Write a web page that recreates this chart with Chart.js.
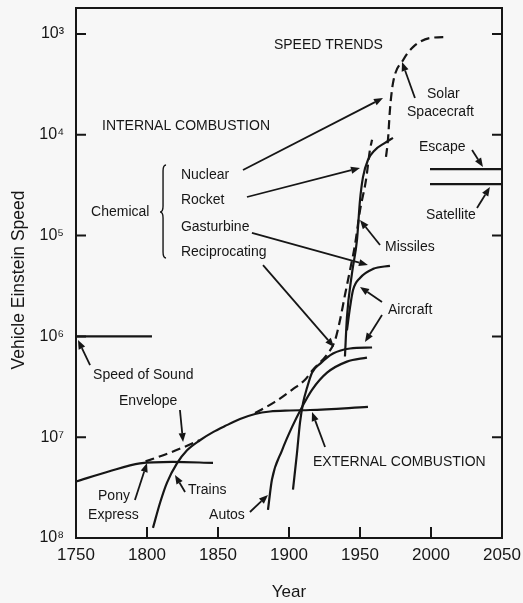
<!DOCTYPE html>
<html>
<head>
<meta charset="utf-8">
<script src="https://cdn.jsdelivr.net/npm/chart.js@4.4.1/dist/chart.umd.min.js"></script>
<style>
  html, body { margin: 0; padding: 0; background: #f7f7f7; }
  #wrap { width: 523px; height: 603px; position: relative; }
</style>
</head>
<body>
<div id="wrap"><canvas id="c" width="523" height="603"></canvas></div>
<script>
// Speed trends of vehicles, given as Einstein speed (c / v) on an inverted log axis.
// Each series is a list of [year, log10 of Einstein speed].
const xTicks = [1750, 1800, 1850, 1900, 1950, 2000, 2050];
const yTickExponents = [3, 4, 5, 6, 7, 8];

const ponyExpress = [[1750, 7.44], [1773, 7.34], [1795, 7.26], [1818, 7.245], [1846.5, 7.255]];
const trains = [[1804.2, 7.90], [1809.2, 7.65], [1814.1, 7.45], [1821.1, 7.26], [1828.2, 7.13],
                [1837.3, 7.03], [1846.5, 6.95], [1854.9, 6.89], [1865.5, 6.82], [1876.1, 6.77],
                [1886.6, 6.745], [1900.7, 6.735], [1914.8, 6.73], [1955.6, 6.70]];
const autos = [[1885.2, 7.72], [1888, 7.42], [1895.1, 7.13], [1902.1, 6.90], [1909.2, 6.70],
               [1916.2, 6.53], [1926.8, 6.36], [1940.8, 6.25], [1954.9, 6.21]];
const pistonAircraft = [[1902.8, 7.52], [1905.6, 7.16], [1907.7, 6.86], [1909.9, 6.66], [1912.7, 6.51],
                        [1916.2, 6.36], [1922, 6.27], [1931, 6.17], [1943, 6.12], [1958.5, 6.11]];
const jetAircraft = [[1940.8, 5.94], [1943, 5.71], [1945.1, 5.54], [1950, 5.42], [1959.2, 5.33], [1971.1, 5.30]];
const missiles = [[1939.4, 6.20], [1940.8, 5.81], [1944.4, 5.37], [1947.9, 5.04], [1950, 4.65],
                  [1952.1, 4.42], [1955.6, 4.25], [1960.6, 4.15], [1967.6, 4.08], [1973.2, 4.03]];
const solarSpacecraft = [[1968.3, 4.22], [1969.7, 4.05], [1971.1, 3.75], [1973.2, 3.49], [1980.3, 3.26],
                         [1987.3, 3.13], [1999.3, 3.04], [2011.3, 3.03]];
const envelopeEarly = [[1799, 7.24], [1815, 7.16], [1829, 7.08], [1837, 7.03]];
const envelopeLate = [[1876.1, 6.76], [1890.1, 6.65], [1902.1, 6.53], [1911.3, 6.43], [1916.9, 6.33],
                      [1926.8, 6.18], [1932.4, 6.04], [1935.9, 5.84], [1939.4, 5.59], [1943, 5.34],
                      [1946.5, 5.09], [1950, 4.75], [1954.2, 4.45], [1957, 4.15], [1958.5, 4.05]];
const speedOfSound = [[1750, 6.0], [1803.5, 6.0]];
const escapeSpeed = [[1999.3, 4.34], [2050, 4.34]];
const satelliteSpeed = [[1999.3, 4.49], [2050, 4.49]];

// Annotation text: [text, year at left edge, exponent at text middle]
const labels = [
  ['SPEED TRENDS', 1889.4, 3.11],
  ['INTERNAL COMBUSTION', 1768.3, 3.913],
  ['Chemical', 1760.6, 4.766],
  ['Nuclear', 1823.9, 4.40],
  ['Rocket', 1823.9, 4.647],
  ['Gasturbine', 1823.9, 4.915],
  ['Reciprocating', 1823.9, 5.163],
  ['Solar', 1997.2, 3.595],
  ['Spacecraft', 1983.1, 3.779],
  ['Escape', 1991.5, 4.121],
  ['Satellite', 1996.5, 4.80],
  ['Missiles', 1967.6, 5.113],
  ['Aircraft', 1969.7, 5.738],
  ['Speed of Sound', 1762, 6.383],
  ['Envelope', 1780.3, 6.646],
  ['Pony', 1765.5, 7.583],
  ['Express', 1758.5, 7.772],
  ['Trains', 1828.9, 7.524],
  ['Autos', 1843.7, 7.772],
  ['EXTERNAL COMBUSTION', 1916.9, 7.246]
];

// Pointer arrows: [tail year, tail exponent, head year, head exponent]
const arrows = [
  [1867.6, 4.349, 1966.2, 3.635],
  [1870.4, 4.617, 1950.0, 4.329],
  [1873.9, 4.974, 1955.6, 5.292],
  [1881.7, 5.292, 1931.7, 6.105],
  [1964.1, 5.093, 1950.0, 4.845],
  [1965.5, 5.659, 1950.0, 5.510],
  [1965.5, 5.788, 1953.5, 6.056],
  [2028.9, 4.151, 2036.6, 4.319],
  [2032.4, 4.726, 2041.5, 4.518],
  [1988.7, 3.635, 1979.6, 3.278],
  [1759.9, 6.284, 1751.4, 6.036],
  [1823.2, 6.730, 1825.4, 7.048],
  [1791.5, 7.623, 1800.0, 7.256],
  [1826.8, 7.544, 1819.7, 7.375],
  [1872.5, 7.742, 1885.2, 7.573],
  [1925.4, 7.097, 1916.2, 6.750]
];

// Brace grouping the chemical engine types
const brace = { year: 1811.3, top: 4.30, mid: 4.766, bottom: 5.222 };

const ink = '#161616';
const FONT = '"Liberation Sans", Arial, Helvetica, sans-serif';
const SUP = { '0': '⁰', '1': '¹', '2': '²', '3': '³', '4': '⁴', '5': '⁵', '6': '⁶', '7': '⁷', '8': '⁸', '9': '⁹' };

const pts = arr => arr.map(([x, e]) => ({ x, y: Math.pow(10, e) }));

function series(label, arr, dashed) {
  return {
    label,
    data: pts(arr),
    borderColor: ink,
    borderWidth: 2.2,
    borderDash: dashed ? [9, 5] : [],
    pointRadius: 0,
    fill: false,
    cubicInterpolationMode: 'monotone'
  };
}

function drawArrow(ctx, x1, y1, x2, y2) {
  const ang = Math.atan2(y2 - y1, x2 - x1);
  const L = 9, W = 3.6;
  const bx = x2 - L * Math.cos(ang), by = y2 - L * Math.sin(ang);
  ctx.beginPath();
  ctx.moveTo(x1, y1);
  ctx.lineTo(bx, by);
  ctx.stroke();
  ctx.beginPath();
  ctx.moveTo(x2, y2);
  ctx.lineTo(bx + W * Math.sin(ang), by - W * Math.cos(ang));
  ctx.lineTo(bx - W * Math.sin(ang), by + W * Math.cos(ang));
  ctx.closePath();
  ctx.fill();
}

const decor = {
  id: 'decor',
  beforeDraw(chart) {
    const { ctx, width, height } = chart;
    ctx.save();
    ctx.fillStyle = '#f7f7f7';
    ctx.fillRect(0, 0, width, height);
    ctx.restore();
  },
  afterDatasetsDraw(chart) {
    const { ctx, chartArea: a, scales: { x, y } } = chart;
    const px = v => x.getPixelForValue(v);
    const py = e => y.getPixelForValue(Math.pow(10, e));
    ctx.save();
    ctx.strokeStyle = ink;
    ctx.fillStyle = ink;
    ctx.lineWidth = 2;
    ctx.setLineDash([]);

    // plot frame
    ctx.strokeRect(a.left, a.top, a.right - a.left, a.bottom - a.top);

    // inward tick marks (left, right, bottom)
    ctx.beginPath();
    xTicks.forEach(v => {
      const X = px(v);
      ctx.moveTo(X, a.bottom);
      ctx.lineTo(X, a.bottom - 11);
    });
    yTickExponents.forEach(e => {
      const Y = py(e);
      ctx.moveTo(a.left, Y); ctx.lineTo(a.left + 10, Y);
      ctx.moveTo(a.right, Y); ctx.lineTo(a.right - 10, Y);
    });
    ctx.stroke();

    // pointer arrows
    ctx.lineWidth = 1.8;
    arrows.forEach(([x1, e1, x2, e2]) => drawArrow(ctx, px(x1), py(e1), px(x2), py(e2)));

    // brace
    const bx = px(brace.year), bt = py(brace.top), bm = py(brace.mid), bb = py(brace.bottom);
    ctx.lineWidth = 1.4;
    ctx.beginPath();
    ctx.moveTo(bx + 3, bt);
    ctx.quadraticCurveTo(bx, bt, bx, bt + 6);
    ctx.lineTo(bx, bm - 6);
    ctx.quadraticCurveTo(bx, bm, bx - 3, bm);
    ctx.quadraticCurveTo(bx, bm, bx, bm + 6);
    ctx.lineTo(bx, bb - 6);
    ctx.quadraticCurveTo(bx, bb, bx + 3, bb);
    ctx.stroke();

    // annotation text
    ctx.font = '14px ' + FONT;
    ctx.textAlign = 'left';
    ctx.textBaseline = 'middle';
    labels.forEach(([t, yr, e]) => ctx.fillText(t, px(yr), py(e)));

    // vertical axis title
    ctx.font = '17.5px ' + FONT;
    ctx.textAlign = 'center';
    ctx.translate(19, (a.top + a.bottom) / 2 + 7);
    ctx.rotate(-Math.PI / 2);
    ctx.fillText('Vehicle Einstein Speed', 0, 0);
    ctx.restore();
  }
};

Chart.defaults.font.family = FONT;
Chart.defaults.color = ink;

new Chart(document.getElementById('c'), {
  type: 'line',
  data: {
    datasets: [
      series('Pony Express', ponyExpress, false),
      series('Trains', trains, false),
      series('Autos', autos, false),
      series('Reciprocating aircraft', pistonAircraft, false),
      series('Gasturbine aircraft', jetAircraft, false),
      series('Missiles', missiles, false),
      series('Solar Spacecraft', solarSpacecraft, true),
      series('Envelope', envelopeEarly, true),
      series('Envelope (late)', envelopeLate, true),
      series('Speed of Sound', speedOfSound, false),
      series('Escape', escapeSpeed, false),
      series('Satellite', satelliteSpeed, false)
    ]
  },
  options: {
    responsive: false,
    animation: false,
    layout: { padding: { top: 8, right: 21, left: 0, bottom: 0 } },
    plugins: { legend: { display: false }, tooltip: { enabled: false } },
    scales: {
      x: {
        type: 'linear',
        position: 'bottom',
        min: 1750,
        max: 2050,
        afterBuildTicks: s => { s.ticks = xTicks.map(v => ({ value: v })); },
        afterFit: s => { s.height = 65; s.paddingLeft = 0; s.paddingRight = 0; },
        ticks: { font: { size: 17 }, color: ink, padding: 7, maxRotation: 0, autoSkip: false,
                 callback: v => String(v) },
        grid: { display: false, drawTicks: false },
        border: { display: false },
        title: { display: true, text: 'Year', font: { size: 17 }, color: ink, padding: { top: 0, bottom: 0 } }
      },
      y: {
        type: 'logarithmic',
        position: 'left',
        reverse: true,
        min: Math.pow(10, 2.742),
        max: 1e8,
        afterBuildTicks: s => { s.ticks = yTickExponents.map(e => ({ value: Math.pow(10, e) })); },
        afterFit: s => { s.width = 76; s.paddingTop = 0; s.paddingBottom = 0; },
        ticks: { font: { size: 16 }, color: ink, padding: 12, autoSkip: false,
                 callback: v => '10' + String(Math.round(Math.log10(v))).split('').map(d => SUP[d]).join('') },
        grid: { display: false, drawTicks: false },
        border: { display: false },
        title: { display: false }
      }
    }
  },
  plugins: [decor]
});
</script>
</body>
</html>
